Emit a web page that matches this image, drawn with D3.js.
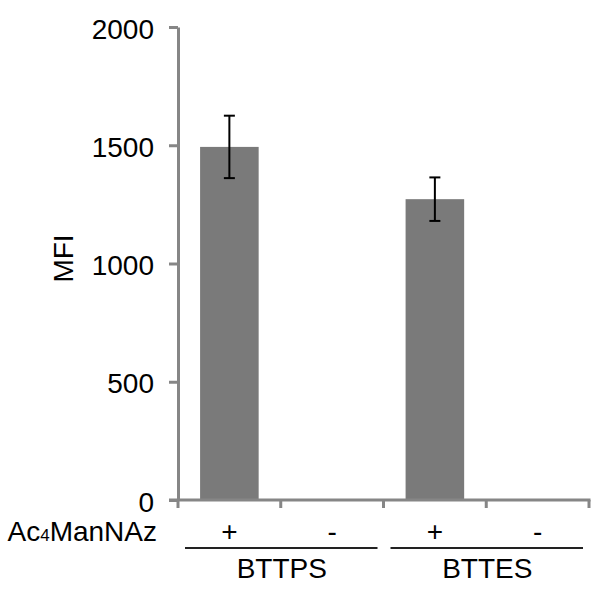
<!DOCTYPE html>
<meta charset="utf-8">
<style>
body { margin: 0; background: #fff; }
text { font-family: "Liberation Sans", Arial, sans-serif; fill: #000; }
</style>
<svg width="602" height="589"></svg>
<script src="https://d3js.org/d3.v7.min.js"></script>
<script>

var categories = ["BTTPS+", "BTTPS-", "BTTES+", "BTTES-"];
var signs = ["+", "-", "+", "-"];
var groups = ["BTTPS", "BTTES"];
var values = [1493, 0, 1272, 0];
var errors = [132, 0, 92, 0];
var yTicks = [0, 500, 1000, 1500, 2000];

var svg = d3.select("svg"),
	margin = {top: 27, right: 13, bottom: 89, left: 178},
	width = +svg.attr("width") - margin.left - margin.right,
	height = +svg.attr("height") - margin.top - margin.bottom;

var x = d3.scaleBand().domain(categories).range([0, width]).padding(0),
	y = d3.scaleLinear().domain([0, 2000]).range([height, 0]);

var g = svg.append("g")
	.attr("transform", "translate(" + margin.left + "," + margin.top + ")");

var axisColor = "#868686";
var barW = x.bandwidth() * 0.57;
var fs = 28;

// bars
g.selectAll(".bar")
	.data(values)
	.enter().append("rect")
	  .attr("class", "bar")
	  .attr("x", function(d, i) { return x(categories[i]) + (x.bandwidth() - barW) / 2; })
	  .attr("y", function(d) { return y(d); })
	  .attr("width", barW)
	  .attr("height", function(d) { return height - y(d); })
	  .attr("fill", "#7a7a7a");

// error bars
var eb = g.selectAll(".err")
	.data(values.map(function(v, i) { return {v: v, e: errors[i], c: categories[i]}; })
		.filter(function(d) { return d.e > 0; }))
	.enter().append("g")
	  .attr("class", "err")
	  .attr("stroke", "#000")
	  .attr("stroke-width", 2);

eb.append("line")
	.attr("x1", function(d) { return x(d.c) + x.bandwidth() / 2; })
	.attr("x2", function(d) { return x(d.c) + x.bandwidth() / 2; })
	.attr("y1", function(d) { return y(d.v + d.e); })
	.attr("y2", function(d) { return y(d.v - d.e); });

[1, -1].forEach(function(s) {
	eb.append("line")
		.attr("x1", function(d) { return x(d.c) + x.bandwidth() / 2 - 5.5; })
		.attr("x2", function(d) { return x(d.c) + x.bandwidth() / 2 + 5.5; })
		.attr("y1", function(d) { return y(d.v + s * d.e); })
		.attr("y2", function(d) { return y(d.v + s * d.e); });
});

// y axis
var yAxis = g.append("g")
	.call(d3.axisLeft(y).tickValues(yTicks).tickFormat(d3.format("d"))
		.tickSize(9).tickSizeOuter(0).tickPadding(15));
yAxis.select(".domain").attr("stroke", axisColor).attr("stroke-width", 3);
yAxis.selectAll(".tick line").attr("stroke", axisColor).attr("stroke-width", 3);
yAxis.selectAll(".tick text")
	.attr("font-size", fs)
	.attr("font-family", "Liberation Sans, Arial, sans-serif")
	.attr("fill", "#000")
	.attr("dy", "0.4em");

// x axis: line plus ticks at band boundaries
var bounds = categories.map(function(c) { return x(c); }).concat([width]);
g.append("line")
	.attr("x1", -9).attr("x2", width + 1.5)
	.attr("y1", height).attr("y2", height)
	.attr("stroke", axisColor).attr("stroke-width", 3);
g.selectAll(".xtick")
	.data(bounds)
	.enter().append("line")
	  .attr("class", "xtick")
	  .attr("x1", function(d) { return d; }).attr("x2", function(d) { return d; })
	  .attr("y1", height).attr("y2", height + 8)
	  .attr("stroke", axisColor).attr("stroke-width", 3);

// sign row
var rowY = height + 41;
g.selectAll(".sign")
	.data(signs)
	.enter().append("text")
	  .attr("class", "sign")
	  .attr("x", function(d, i) { return x(categories[i]) + x.bandwidth() / 2; })
	  .attr("y", rowY)
	  .attr("text-anchor", "middle")
	  .attr("font-size", fs)
	  .text(function(d) { return d; });

var rowLabel = g.append("text")
	.attr("x", -21)
	.attr("y", rowY)
	.attr("text-anchor", "end")
	.attr("font-size", fs);
rowLabel.append("tspan").text("Ac");
rowLabel.append("tspan").attr("font-size", 17).text("4");
rowLabel.append("tspan").text("ManNAz");

// group lines and labels
groups.forEach(function(gr, i) {
	var x0 = x(categories[i * 2]), x1 = x0 + x.step() * 2;
	g.append("line")
		.attr("x1", x0 + 7).attr("x2", x1 - 6)
		.attr("y1", height + 48).attr("y2", height + 48)
		.attr("stroke", "#222").attr("stroke-width", 2);
	g.append("text")
		.attr("x", (x0 + x1) / 2 + 1)
		.attr("y", height + 78)
		.attr("text-anchor", "middle")
		.attr("font-size", fs)
		.text(gr);
});

// y title
svg.append("text")
	.attr("transform", "translate(73," + (margin.top + height / 2 - 5) + ") rotate(-90)")
	.attr("text-anchor", "middle")
	.attr("font-size", fs)
	.text("MFI");

</script>
